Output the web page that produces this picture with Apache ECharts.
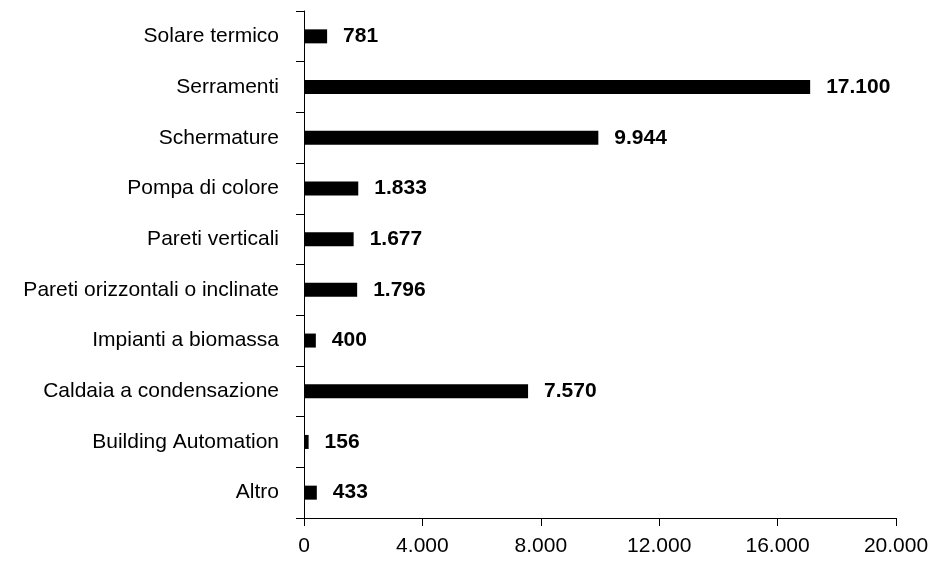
<!DOCTYPE html>
<html>
<head>
<meta charset="utf-8">
<script src="https://cdn.jsdelivr.net/npm/echarts@6/dist/echarts.min.js"></script>
<style>html,body{margin:0;padding:0;background:#fff}#c{width:932px;height:561px}</style>
</head>
<body>
<div id="c"></div>
<script>
const categories = ["Solare termico","Serramenti","Schermature","Pompa di colore","Pareti verticali","Pareti orizzontali o inclinate","Impianti a biomassa","Caldaia a condensazione","Building Automation","Altro"];
const values = [781,17100,9944,1833,1677,1796,400,7570,156,433];
const xTicks = {min:0,max:20000,interval:4000};

function fmt(v){ return String(Math.round(v)).replace(/\B(?=(\d{3})+(?!\d))/g,'.'); }
const FONT = '"Liberation Sans", Arial, sans-serif';

const chart = echarts.init(document.getElementById('c'), null, {renderer:'canvas'});
chart.setOption({
  animation:false,
  backgroundColor:'#fff',
  grid:{left:304,right:36,top:11,bottom:43,containLabel:false},
  xAxis:{
    type:'value', min:xTicks.min, max:xTicks.max, interval:xTicks.interval,
    axisLine:{show:true,lineStyle:{color:'#000',width:1}},
    axisTick:{show:true,length:8,lineStyle:{color:'#000'}},
    splitLine:{show:false},
    axisLabel:{formatter:fmt,color:'#000',fontFamily:FONT,fontSize:21,margin:18}
  },
  yAxis:{
    type:'category', data:categories, inverse:true,
    axisLine:{show:true,lineStyle:{color:'#000',width:1}},
    axisTick:{show:true,length:8,inside:false,alignWithLabel:false,lineStyle:{color:'#000'}},
    axisLabel:{color:'#000',fontFamily:FONT,fontSize:21,margin:25}
  },
  series:[{
    type:'bar', data:values, barWidth:14,
    itemStyle:{color:'#000'},
    label:{show:true,position:'right',distance:16,formatter:p=>fmt(p.value),color:'#000',fontFamily:FONT,fontSize:21,fontWeight:'bold'}
  }]
});
</script>
</body>
</html>
